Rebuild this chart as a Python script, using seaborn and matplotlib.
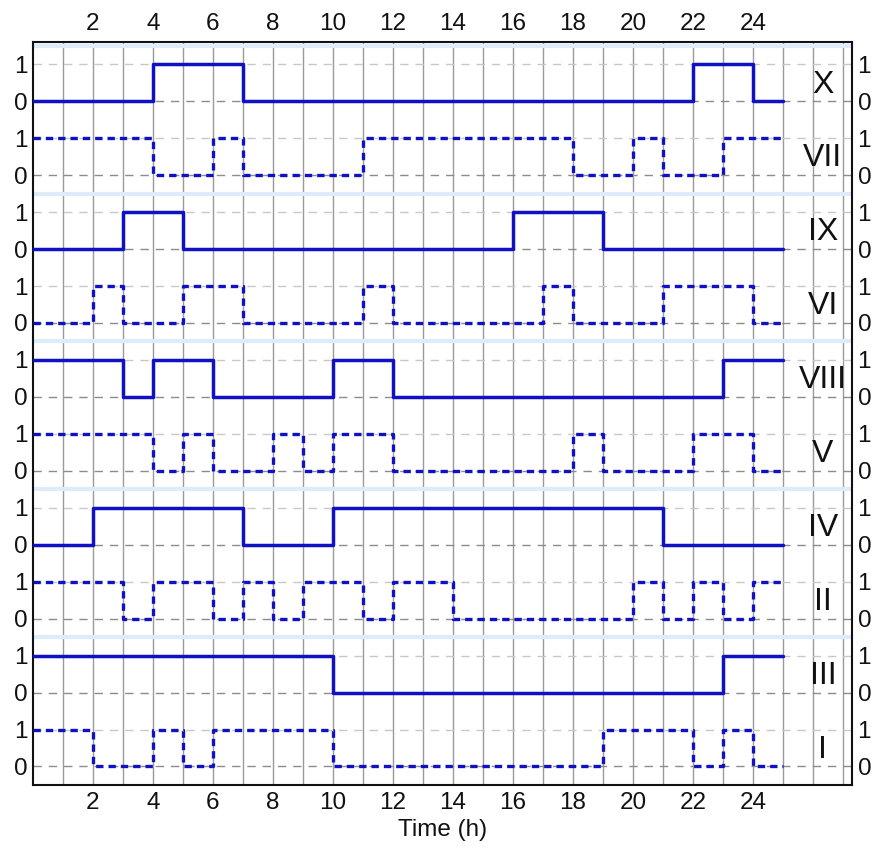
import matplotlib
matplotlib.use("Agg")
import matplotlib.pyplot as plt
import seaborn as sns
import numpy as np
import pandas as pd

# ---- data (hourly on/off states, hours 0..24; each state holds for one hour) ----
hours = list(range(0, 25))
labels = ["I", "III", "II", "IV", "V", "VIII", "VI", "IX", "VII", "X"]  # bottom to top
solid = {"I": False, "III": True, "II": False, "IV": True, "V": False,
         "VIII": True, "VI": False, "IX": True, "VII": False, "X": True}

X_states    = [0,0,0,0,1,1,1,0,0,0,0,0,0,0,0,0,0,0,0,0,0,0,1,1,0]
VII_states  = [1,1,1,1,0,0,1,0,0,0,0,1,1,1,1,1,1,1,0,0,1,0,0,1,1]
IX_states   = [0,0,0,1,1,0,0,0,0,0,0,0,0,0,0,0,1,1,1,0,0,0,0,0,0]
VI_states   = [0,0,1,0,0,1,1,0,0,0,0,1,0,0,0,0,0,1,0,0,0,1,1,1,0]
VIII_states = [1,1,1,0,1,1,0,0,0,0,1,1,0,0,0,0,0,0,0,0,0,0,0,1,1]
V_states    = [1,1,1,1,0,1,0,0,1,0,1,1,0,0,0,0,0,0,1,0,0,0,1,1,0]
IV_states   = [0,0,1,1,1,1,1,0,0,0,1,1,1,1,1,1,1,1,1,1,1,0,0,0,0]
II_states   = [1,1,1,0,1,1,0,1,0,1,1,0,1,1,0,0,0,0,0,0,1,0,1,0,1]
III_states  = [1,1,1,1,1,1,1,1,1,1,0,0,0,0,0,0,0,0,0,0,0,0,0,1,1]
I_states    = [1,1,0,0,1,0,1,1,1,1,0,0,0,0,0,0,0,0,0,1,1,1,0,1,0]

states = {"X": X_states, "VII": VII_states, "IX": IX_states, "VI": VI_states,
          "VIII": VIII_states, "V": V_states, "IV": IV_states, "II": II_states,
          "III": III_states, "I": I_states}

x_ticks = list(range(2, 25, 2))

# ---- build long table ----
rows = []
for k, name in enumerate(labels):
    vals = states[name] + [states[name][-1]]
    xs = hours + [hours[-1] + 1]
    for x, v in zip(xs, vals):
        rows.append({"trace": name, "time": x, "level": v + 2 * k})
df = pd.DataFrame(rows)

sns.set_theme(style="white")
plt.rcParams["font.family"] = ["Liberation Sans", "DejaVu Sans"]

fig = plt.figure(figsize=(8.75, 8.5), dpi=100)
ax = fig.add_axes([0.0377, 0.0765, 0.936, 0.874])

# vertical grid at every hour
for xv in range(1, 28):
    ax.axvline(xv, color="#9a9a9a", lw=1.0, zorder=0)

# horizontal dashed level lines and light blue separators
for k in range(len(labels)):
    ax.axhline(2 * k, color="#8c8c8c", lw=1.0, ls=(0, (6, 5)), zorder=0.5)
    ax.axhline(2 * k + 1, color="#c8c8c8", lw=1.0, ls=(0, (6, 5)), zorder=0.5)
for s in [3.5, 7.5, 11.5, 15.5, 19.5]:
    ax.axhline(s, color="#dcecfb", lw=3, zorder=0.6)

blue = "#1010c4"
for k, name in enumerate(labels):
    sub = df[df["trace"] == name]
    if solid[name]:
        sns.lineplot(data=sub, x="time", y="level", ax=ax, drawstyle="steps-post",
                     color=blue, lw=2.5, estimator=None, zorder=3)
    else:
        sns.lineplot(data=sub, x="time", y="level", ax=ax, drawstyle="steps-post",
                     color=blue, lw=2.4, linestyle=(0, (2.2, 1.5)), estimator=None, zorder=3)
    ax.text(26.33, 2 * k + 0.45, name, ha="center", va="center", fontsize=23,
            color="#111111")

ax.set_xlim(0, 27.3)
ax.set_ylim(-0.5, 19.6)
ax.set_xticks(x_ticks)
ax.set_xticklabels([str(t) for t in x_ticks])
ax.set_yticks(list(range(0, 20)))
ax.set_yticklabels(["0" if i % 2 == 0 else "1" for i in range(20)])
ax.tick_params(axis="both", which="both", length=0, labelsize=17.5, colors="#111111",
               top=True, labeltop=True, right=True, labelright=True, pad=5)
ax.tick_params(axis="y", pad=4)
ax.set_xlabel("Time (h)", fontsize=17.5, color="#111111", labelpad=4)
ax.set_ylabel("")
for sp in ax.spines.values():
    sp.set_color("#111111")
    sp.set_linewidth(1.5)
    sp.set_visible(True)
ax.grid(False)

fig.savefig("out.png", dpi=100)
